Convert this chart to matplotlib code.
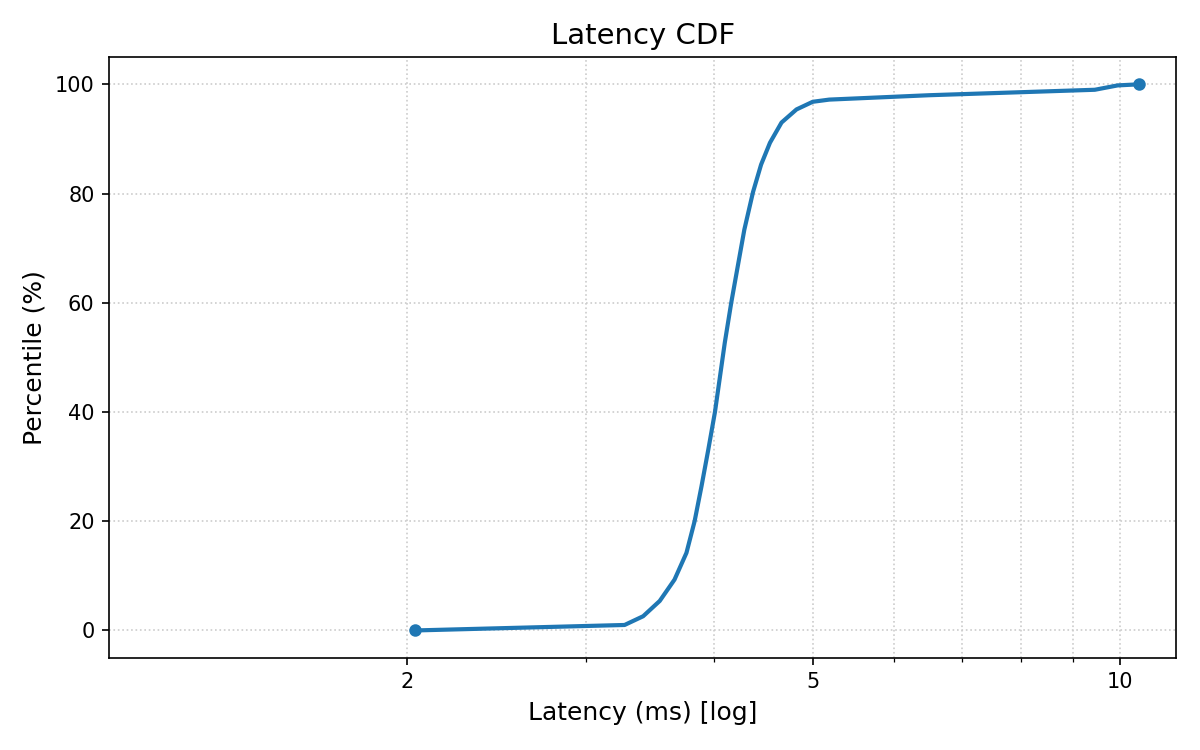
import numpy as np
import matplotlib
matplotlib.use("Agg")
import matplotlib.pyplot as plt
from matplotlib.ticker import ScalarFormatter, NullFormatter

# latency (ms), with the matching percentile
latency_ms = [2.04, 3.27, 3.41, 3.54, 3.66, 3.76, 3.83, 3.89, 3.95, 4.01,
              4.10, 4.16, 4.22, 4.285, 4.37, 4.45, 4.54, 4.66, 4.82, 5.00,
              5.19, 6.5, 9.45, 9.95, 10.45]
percentile = [0, 1, 2.6, 5.4, 9.3, 14.2, 20, 26.4, 33.1, 40,
              52.7, 60, 66.5, 73.4, 80.3, 85.3, 89.3, 93.0, 95.4, 96.8,
              97.2, 98, 99, 99.8, 100]
x_ticks = [2, 5, 10]

fig, ax = plt.subplots(figsize=(8, 5), dpi=150)
ax.plot(latency_ms, percentile, color="#1f77b4", lw=2,
        marker="o", markersize=5, markevery=[0, len(latency_ms) - 1])

ax.set_xscale("log")
ax.set_xlim(1.022, 11.35)
ax.set_ylim(-5, 105)
ax.set_xticks(x_ticks)
ax.xaxis.set_major_formatter(ScalarFormatter())
ax.xaxis.set_minor_formatter(NullFormatter())

ax.grid(True, which="both", axis="x", linestyle=":", color="#cccccc", lw=0.8)
ax.grid(True, which="major", axis="y", linestyle=":", color="#cccccc", lw=0.8)

ax.set_title("Latency CDF", fontsize=14)
ax.set_xlabel("Latency (ms) [log]", fontsize=12)
ax.set_ylabel("Percentile (%)", fontsize=12)
ax.tick_params(labelsize=10)

fig.subplots_adjust(left=0.091, right=0.98, top=0.924, bottom=0.123)
fig.savefig("out.png", dpi=150)
